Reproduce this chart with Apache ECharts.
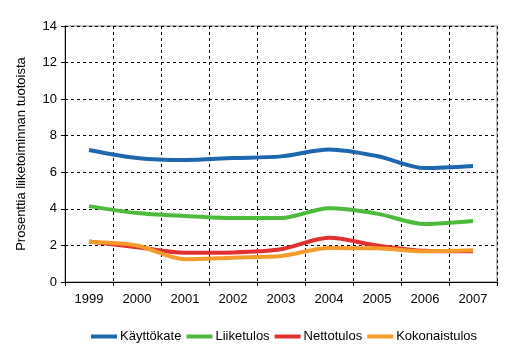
<!DOCTYPE html>
<html>
<head>
<meta charset="UTF-8">
<title>chart</title>
<script src="https://cdn.jsdelivr.net/npm/echarts@6/dist/echarts.min.js"></script>
<style>
  html, body { margin: 0; padding: 0; background: #fff; }
  #chart { width: 512px; height: 353px; }
</style>
</head>
<body>
<div id="chart"></div>
<script>
// data
var years = ['1999', '2000', '2001', '2002', '2003', '2004', '2005', '2006', '2007'];
var kayttokate = [7.22, 6.78, 6.67, 6.78, 6.87, 7.25, 6.89, 6.23, 6.34];
var liiketulos = [4.15, 3.77, 3.61, 3.50, 3.50, 4.03, 3.74, 3.17, 3.33];
var nettotulos = [2.22, 1.90, 1.60, 1.62, 1.79, 2.42, 2.00, 1.71, 1.68];
var kokonaistulos = [2.19, 2.00, 1.24, 1.33, 1.42, 1.86, 1.84, 1.68, 1.73];
var seriesNames = ['Käyttökate', 'Liiketulos', 'Nettotulos', 'Kokonaistulos'];
var colors = ['#1c67b0', '#4cbb3c', '#e0312f', '#f59b2c'];

var font = 'Liberation Sans, Arial, sans-serif';
var myChart = echarts.init(document.getElementById('chart'));

function line(name, data, color) {
    return {
        name: name,
        type: 'line',
        data: data,
        smooth: 0.3,
        symbol: 'none',
        color: color,
        lineStyle: { width: 4, color: color }
    };
}

var option = {
    backgroundColor: '#fff',
    animation: false,
    grid: { left: 65, top: 26, right: 15, bottom: 71, show: true, borderColor: '#808080', borderWidth: 1 },
    legend: {
        bottom: 5,
        left: 86,
        itemWidth: 26,
        itemHeight: 4,
        itemGap: 5,
        icon: 'rect',
        textStyle: { fontFamily: font, fontSize: 13, color: '#000', padding: [0, 0, 0, -2] },
        data: seriesNames
    },
    xAxis: {
        type: 'category',
        data: years,
        boundaryGap: true,
        axisLine: { lineStyle: { color: '#000', width: 1 } },
        axisTick: { show: true, length: 4, lineStyle: { color: '#000' } },
        axisLabel: { fontFamily: font, fontSize: 13, color: '#000', margin: 11 },
        splitLine: { show: true, interval: 0, lineStyle: { color: '#000', type: [3, 3], width: 1 } }
    },
    yAxis: {
        type: 'value',
        min: 0,
        max: 14,
        interval: 2,
        name: 'Prosenttia liiketoiminnan tuotoista',
        nameLocation: 'middle',
        nameGap: 37,
        nameTextStyle: { fontFamily: font, fontSize: 13, color: '#000' },
        axisLine: { show: true, lineStyle: { color: '#000', width: 1 } },
        axisTick: { show: true, length: 4, lineStyle: { color: '#000' } },
        axisLabel: { fontFamily: font, fontSize: 13, color: '#000', margin: 8 },
        splitLine: { show: true, lineStyle: { color: '#000', type: [3, 3], width: 1 } }
    },
    series: [
        line(seriesNames[0], kayttokate, colors[0]),
        line(seriesNames[1], liiketulos, colors[1]),
        line(seriesNames[2], nettotulos, colors[2]),
        line(seriesNames[3], kokonaistulos, colors[3])
    ]
};
myChart.setOption(option);
</script>
</body>
</html>
